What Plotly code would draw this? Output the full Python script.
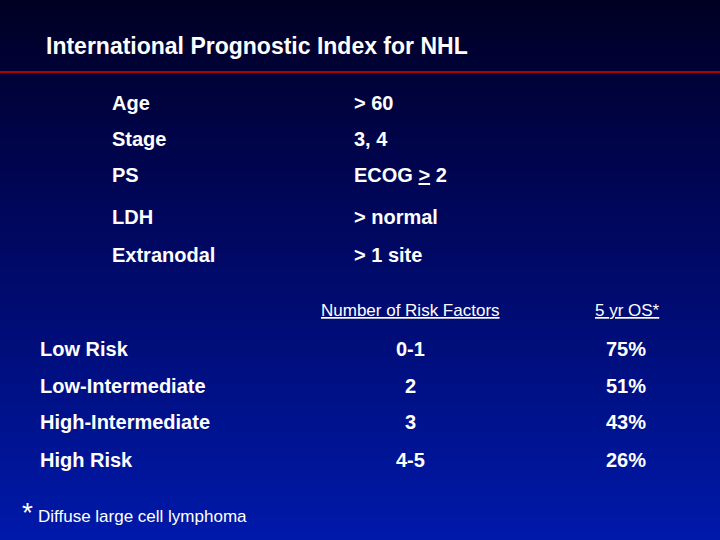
import plotly.graph_objects as go
import numpy as np

title = "International Prognostic Index for NHL"
factors = ["Age", "Stage", "PS", "LDH", "Extranodal"]
criteria = ["&gt; 60", "3, 4", "ECOG <u>&gt;</u> 2", "&gt; normal", "&gt; 1 site"]
groups = ["Low Risk", "Low-Intermediate", "High-Intermediate", "High Risk"]
n_factors = ["0-1", "2", "3", "4-5"]
os5 = ["75%", "51%", "43%", "26%"]
headers = ["Number of Risk Factors", "5 yr OS*"]
footnote = "Diffuse large cell lymphoma"

W, H = 720, 540
fig = go.Figure()
rows = np.linspace(0, 1, 60).reshape(-1, 1)
fig.add_trace(go.Heatmap(z=np.repeat(rows, 2, axis=1), x=[0, W], y=np.linspace(0, H, 60),
                         colorscale=[[0, "rgb(0,0,35)"], [0.35, "rgb(0,5,85)"], [1, "rgb(0,25,170)"]],
                         showscale=False, hoverinfo="skip", zsmooth="best"))
fig.add_shape(type="line", x0=0, x1=W, y0=72, y1=72, line=dict(color="#b00000", width=2))

F = "Liberation Sans, Arial"
def txt(x, y, s, size=20, anchor="left", bold=True):
    fig.add_annotation(x=x, y=y, text=f"<b>{s}</b>" if bold else s, showarrow=False,
                       xanchor=anchor, yanchor="middle", font=dict(family=F, size=size, color="white"))

txt(44, 46, title, 23)
fy = [103, 139, 175, 217, 255]
for f, c, y in zip(factors, criteria, fy):
    txt(110, y, f)
    txt(352, y, c)
txt(410, 310, f"<u>{headers[0]}</u>", 17, "center", bold=False)
txt(627, 310, f"<u>{headers[1]}</u>", 17, "center", bold=False)
gy = [349, 386, 422, 460]
for g, n, o, y in zip(groups, n_factors, os5, gy):
    txt(38, y, g)
    txt(410, y, n, anchor="center")
    txt(626, y, o, anchor="center")
txt(20, 512, "*", 28, bold=False)
txt(36, 516, footnote, 17, bold=False)

fig.update_xaxes(range=[0, W], visible=False, fixedrange=True)
fig.update_yaxes(range=[H, 0], visible=False, fixedrange=True)
fig.update_layout(width=W, height=H, margin=dict(l=0, r=0, t=0, b=0),
                  paper_bgcolor="rgb(0,0,60)", plot_bgcolor="rgb(0,0,60)", showlegend=False)
fig.write_html("out.html", config={"displayModeBar": False},
               post_script="document.body.style.margin='0';document.body.style.overflow='hidden';")
